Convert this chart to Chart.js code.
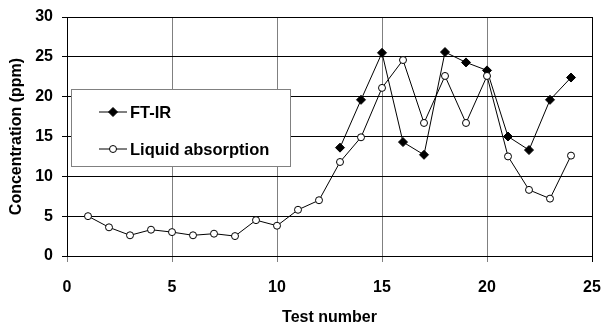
<!DOCTYPE html>
<html>
<head>
<meta charset="utf-8">
<script src="https://cdn.jsdelivr.net/npm/chart.js@4"></script>
<style>
  html, body { margin: 0; padding: 0; background: #fff; }
  #wrap { width: 602px; height: 327px; position: relative; }
</style>
</head>
<body>
<div id="wrap"><canvas id="conc"></canvas></div>
<script>
// values
const tests = [1, 2, 3, 4, 5, 6, 7, 8, 9, 10, 11, 12, 13, 14, 15, 16, 17, 18, 19, 20, 21, 22, 23, 24];
const liquid = [5.0, 3.6, 2.6, 3.3, 3.0, 2.6, 2.8, 2.5, 4.5, 3.8, 5.8, 7.0, 11.8, 14.9, 21.1, 24.6, 16.7, 22.6, 16.7, 22.6, 12.5, 8.3, 7.2, 12.6];
const ftirTests = [13, 14, 15, 16, 17, 18, 19, 20, 21, 22, 23, 24];
const ftir = [13.6, 19.6, 25.5, 14.3, 12.7, 25.6, 24.3, 23.3, 15.0, 13.3, 19.6, 22.4];
const seriesNames = ['FT-IR', 'Liquid absorption'];

const fontFamily = '"Liberation Sans", Arial, sans-serif';

// legend box drawn inside the plot area, like the original
const boxLegend = {
    id: 'boxLegend',
    afterDraw(chart) {
        const ctx = chart.ctx;
        const x = 71, y = 89, w = 219, h = 77;
        ctx.save();
        ctx.fillStyle = '#fff';
        ctx.fillRect(x, y, w, h);
        ctx.strokeStyle = '#808080';
        ctx.lineWidth = 1;
        ctx.strokeRect(x + 0.5, y + 0.5, w, h);

        const rows = [23, 60];
        chart.data.datasets.forEach((ds, i) => {
            const cy = y + rows[i];
            ctx.strokeStyle = '#000';
            ctx.lineWidth = 1;
            ctx.beginPath();
            ctx.moveTo(x + 28, cy);
            ctx.lineTo(x + 56, cy);
            ctx.stroke();
            ctx.fillStyle = ds.pointBackgroundColor;
            ctx.strokeStyle = ds.pointBorderColor;
            Chart.helpers.drawPoint(ctx, {
                pointStyle: ds.pointStyle,
                radius: ds.pointRadius,
                borderWidth: 1
            }, x + 42, cy);
            ctx.fillStyle = '#000';
            ctx.font = 'bold 16.5px ' + fontFamily;
            ctx.textBaseline = 'middle';
            ctx.textAlign = 'left';
            ctx.fillText(ds.label, x + 59, cy + 1);
        });
        ctx.restore();
    }
};

const config = {
    type: 'line',
    data: {
        datasets: [
            {
                label: seriesNames[0],
                data: ftirTests.map((t, i) => ({ x: t, y: ftir[i] })),
                borderColor: '#000',
                borderWidth: 1,
                pointStyle: 'rectRot',
                pointRadius: 4.5,
                pointBackgroundColor: '#000',
                pointBorderColor: '#000',
                pointBorderWidth: 1,
                order: 1
            },
            {
                label: seriesNames[1],
                data: tests.map((t, i) => ({ x: t, y: liquid[i] })),
                borderColor: '#000',
                borderWidth: 1,
                pointStyle: 'circle',
                pointRadius: 3.5,
                pointBackgroundColor: '#fff',
                pointBorderColor: '#000',
                pointBorderWidth: 1,
                order: 0
            }
        ]
    },
    options: {
        responsive: true,
        maintainAspectRatio: false,
        animation: false,
        layout: {
            padding: { top: 17, right: 10, left: 0, bottom: 0 }
        },
        scales: {
            x: {
                type: 'linear',
                min: 0,
                max: 25,
                ticks: {
                    stepSize: 5,
                    color: '#000',
                    padding: 16,
                    font: { family: fontFamily, size: 16, weight: 'bold' }
                },
                grid: {
                    color: ctx => (ctx.tick && ctx.tick.value === 25) ? '#000' : '#808080',
                    lineWidth: 1,
                    tickLength: 6
                },
                border: { color: '#000', width: 1 },
                title: {
                    display: true,
                    text: 'Test number',
                    color: '#000',
                    padding: { top: 0, bottom: 0 },
                    font: { family: fontFamily, size: 16, weight: 'bold' }
                },
                afterFit(scale) {
                    scale.height = 71;
                    scale.paddingLeft = 0;
                    scale.paddingRight = 0;
                }
            },
            y: {
                min: 0,
                max: 30,
                ticks: {
                    stepSize: 5,
                    color: '#000',
                    padding: 9,
                    font: { family: fontFamily, size: 16, weight: 'bold' }
                },
                grid: {
                    color: '#000',
                    lineWidth: 1,
                    tickLength: 5
                },
                border: { color: '#000', width: 1 },
                title: {
                    display: true,
                    text: 'Concentration (ppm)',
                    color: '#000',
                    padding: { top: 7, bottom: 0 },
                    font: { family: fontFamily, size: 16, weight: 'bold' }
                },
                afterFit(scale) {
                    scale.width = 67;
                    scale.paddingTop = 0;
                    scale.paddingBottom = 0;
                }
            }
        },
        plugins: {
            legend: { display: false },
            tooltip: { enabled: false }
        }
    },
    plugins: [boxLegend]
};

new Chart(document.getElementById('conc'), config);
</script>
</body>
</html>
